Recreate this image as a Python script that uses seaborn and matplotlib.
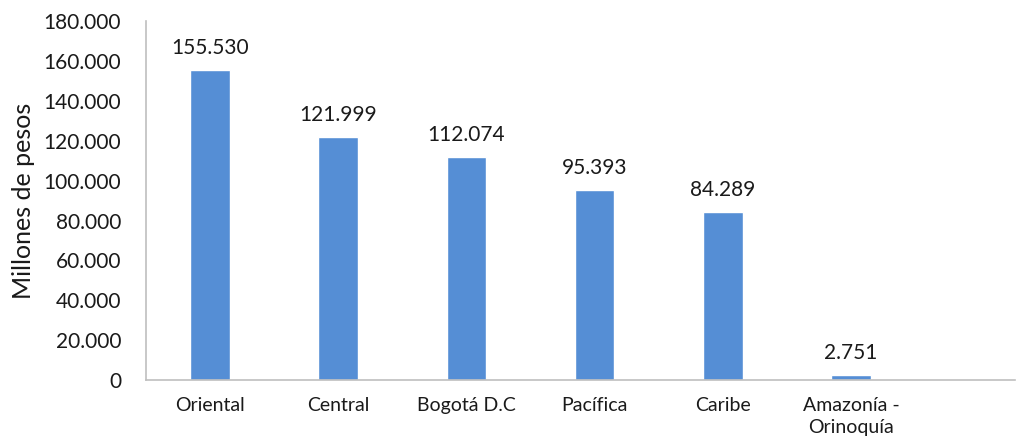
import matplotlib
matplotlib.use("Agg")
import matplotlib.pyplot as plt
import seaborn as sns
import pandas as pd
from matplotlib.ticker import FuncFormatter

regiones = ["Oriental", "Central", "Bogotá D.C", "Pacífica", "Caribe", "Amazonía -\nOrinoquía"]
valores = [155530, 121999, 112074, 95393, 84289, 2751]
y_ticks = [0, 20000, 40000, 60000, 80000, 100000, 120000, 140000, 160000, 180000]

sns.set_theme(style="white")
plt.rcParams['font.family'] = ['Lato', 'DejaVu Sans']

df = pd.DataFrame({"region": regiones, "valor": valores})

fig = plt.figure(figsize=(10.29, 4.48), dpi=100)
ax = fig.add_axes([0.1419, 0.1518, 0.8445, 0.801])

sns.barplot(data=df, x="region", y="valor", color="#558ED5", saturation=1,
            width=0.31, ax=ax)


def miles(v, pos):
    return f"{int(v):,}".replace(",", ".")


for i, v in enumerate(valores):
    ax.text(i, v + 6000, miles(v, None), ha="center", va="bottom",
            fontsize=15, color="#1a1a1a")

ax.set_xlim(-0.5, 6.28)
ax.set_ylim(0, 180000)
ax.set_yticks(y_ticks)
ax.yaxis.set_major_formatter(FuncFormatter(miles))
ax.tick_params(axis="y", labelsize=15, length=0, pad=18, colors="#1a1a1a")
ax.tick_params(axis="x", labelsize=14, length=0, pad=12, colors="#1a1a1a")
for t in ax.get_xticklabels():
    t.set_linespacing(1.35)
ax.set_xlabel("")
ax.set_ylabel("Millones de pesos", fontsize=18, color="#1a1a1a", labelpad=6)

sns.despine(ax=ax)
for s in ["left", "bottom"]:
    ax.spines[s].set_color("#bfbfbf")
    ax.spines[s].set_linewidth(1.2)

fig.savefig("out.png", dpi=100)
